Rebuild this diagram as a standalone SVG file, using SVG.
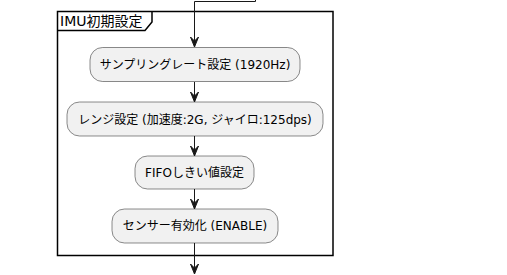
<svg xmlns="http://www.w3.org/2000/svg" width="507" height="275" viewBox="0 0 507 275">
<defs>
<style>
.box{fill:#F1F1F1;stroke:#181818;stroke-width:0.5}
.t{font-family:"DejaVu Sans","Noto Sans CJK JP",sans-serif;font-size:12px;fill:#000;text-anchor:middle}
.ln{fill:none;stroke:#181818;stroke-width:1}
.ah{fill:#181818;stroke:#181818;stroke-width:1}
.frame{fill:none;stroke:#000;stroke-width:1.5}
</style>
</defs>
<rect width="507" height="275" fill="#FFFFFF"/>
<g id="group-imu">
<rect class="frame" x="57.5" y="11.5" width="275.5" height="244"/>
<path class="frame" d="M57.5,30.5 L145,30.5 L152,22 L152,11.5"/>
<text x="60" y="25.5" style="font-family:'DejaVu Sans','Noto Sans CJK JP',sans-serif;font-size:14px;fill:#000">IMU初期設定</text>
</g>
<g id="connectors">
<path class="ln" d="M255.5,0 L255.5,1.5 L194.5,1.5 L194.5,46"/>
<polygon class="ah" points="190.5,37 194.5,47 198.5,37 194.5,41"/>
<path class="ln" d="M194.5,82 L194.5,101"/>
<polygon class="ah" points="190.5,92 194.5,102 198.5,92 194.5,96"/>
<path class="ln" d="M194.5,136 L194.5,155"/>
<polygon class="ah" points="190.5,146 194.5,156 198.5,146 194.5,150"/>
<path class="ln" d="M194.5,189 L194.5,208"/>
<polygon class="ah" points="190.5,199 194.5,209 198.5,199 194.5,203"/>
<path class="ln" d="M194.5,243 L194.5,273"/>
<polygon class="ah" points="190.5,264 194.5,274 198.5,264 194.5,268"/>
</g>
<g id="node-sampling">
<rect class="box" x="90" y="47.5" width="210" height="34" rx="12.5"/>
<text class="t" x="195" y="69">サンプリングレート設定 (1920Hz)</text>
</g>
<g id="node-range">
<rect class="box" x="67" y="102" width="256" height="34" rx="12.5"/>
<text class="t" x="195" y="123.5">レンジ設定 (加速度:2G, ジャイロ:125dps)</text>
</g>
<g id="node-fifo">
<rect class="box" x="135" y="156" width="119" height="33" rx="12.5"/>
<text class="t" x="194.5" y="177">FIFOしきい値設定</text>
</g>
<g id="node-enable">
<rect class="box" x="112" y="209" width="166" height="34" rx="12.5"/>
<text class="t" x="195" y="230">センサー有効化 (ENABLE)</text>
</g>
</svg>
